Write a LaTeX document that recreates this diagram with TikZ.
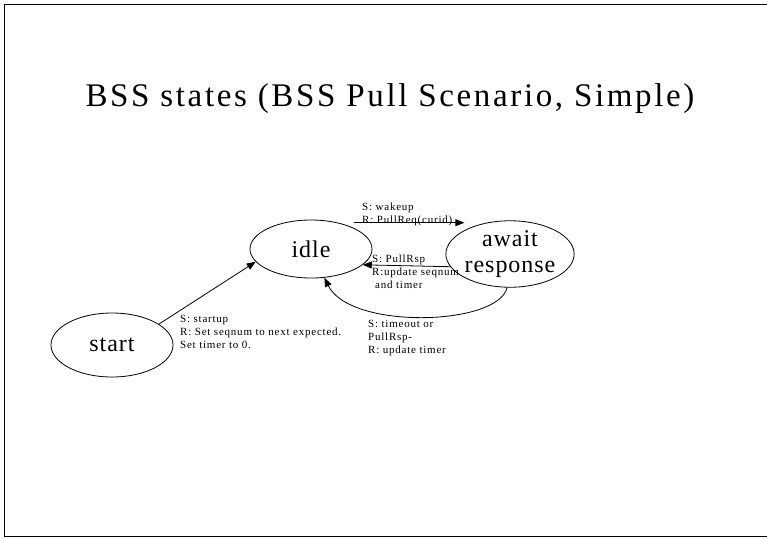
\documentclass[tikz,border=0pt]{standalone}
\usepackage{fontspec}
\setmainfont{Liberation Serif}
\newfontfamily\titlefont[LetterSpace=8]{Liberation Serif}
\newfontfamily\statefont[LetterSpace=4]{Liberation Serif}
\newfontfamily\notefont[LetterSpace=7]{Liberation Serif}
\usetikzlibrary{arrows.meta,shapes.geometric}

\begin{document}
\begin{tikzpicture}[x=1pt, y=-1pt,
  state/.style={draw, ellipse, line width=.8pt, minimum width=122pt, minimum height=58pt,
    inner sep=0pt, align=center, font=\statefont\fontsize{24}{26}\selectfont},
  note/.style={inner sep=0pt, anchor=base west, align=left,
    font=\notefont\fontsize{11}{12.7}\selectfont},
  trans/.style={line width=.8pt, -{Triangle[length=9pt,width=7pt]}}]
\useasboundingbox (0,0) rectangle (767,538);
\draw[line width=1.6pt] (775,4.5) -- (4.5,4.5) -- (4.5,536.5) -- (775,536.5);
\node[anchor=base, font=\titlefont\fontsize{33}{36}\selectfont] (title) at (390,106)
  {BSS states (BSS Pull Scenario, Simple)};
\node[state] (idle) at (311,249) {idle};
\node[state] (await) at (510,254) {await\\response};
\node[state, minimum height=64pt] (start) at (112,345) {start};
\draw[trans] ([yshift=5.5pt]idle.north east) -- ([yshift=5.5pt]idle.north east -| await.north west);
\draw[trans] (await.192) -- (idle.-17);
\draw[trans] (await.-95) .. controls (498,326) and (350,330) .. (idle.-65);
\draw[trans] (start.24) -- (idle.193);
\node[note] (wake) at (362,223) {S: wakeup\\R: PullReq(curid)};
\node[note] (rsp) at (372,288) {S: PullRsp\\R:update seqnum\\\hspace*{3pt}and timer};
\node[note] (boot) at (180,348) {S: startup\\R: Set seqnum to next expected.\\Set timer to 0.};
\node[note] (tout) at (368,353) {S: timeout or\\PullRsp-\\R: update timer};
\end{tikzpicture}
\end{document}
